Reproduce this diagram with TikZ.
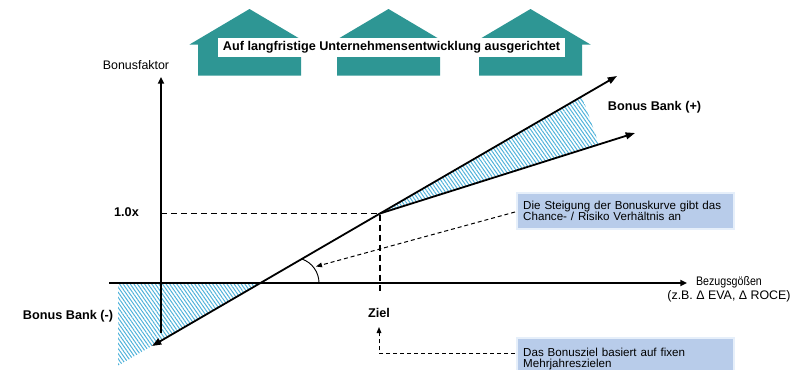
\documentclass[tikz,border=0pt]{standalone}
\usepackage{fontspec}
\setmainfont{Liberation Sans}
\usetikzlibrary{arrows.meta,patterns.meta,calc}
\definecolor{tealhouse}{RGB}{46,150,148}
\definecolor{hatchblue}{RGB}{80,178,218}
\definecolor{boxfill}{RGB}{184,204,234}
\definecolor{boxedge}{RGB}{230,239,250}
\tikzset{
  house/.style={fill=tealhouse, draw=none},
  axisline/.style={line width=1.35pt, -{Triangle[length=5pt,width=4.5pt]}},
  curveline/.style={line width=1.35pt, -{Triangle[length=7pt,width=5pt]}},
  guide/.style={line width=1.35pt, dash pattern=on 4.5pt off 3pt},
  pointer/.style={line width=0.75pt, dash pattern=on 3pt off 2.2pt, -{Triangle[length=4.5pt,width=3.5pt]}},
  hatched/.style={draw=none, pattern={Lines[angle=-55,distance=2.2pt,line width=0.75pt]}, pattern color=hatchblue},
  boldlbl/.style={font=\fontsize{9.5}{11}\selectfont\bfseries, inner sep=0pt},
  plainlbl/.style={font=\fontsize{9.3}{11}\selectfont, inner sep=0pt},
  callout/.style={fill=boxfill, draw=boxedge, line width=1.6pt, font=\fontsize{8.7}{8.4}\selectfont,
    text width=153pt, inner xsep=5pt, align=left, anchor=north west},
}
\newcommand{\housepath}[1]{(#1-60,44.5) -- (#1,9) -- (#1+60,44.5) -- (#1+51.5,44.5) -- (#1+51.5,75.5) -- (#1-51.5,75.5) -- (#1-51.5,44.5) -- cycle}
\begin{document}
\begin{tikzpicture}[x=0.75pt,y=-0.75pt]
\useasboundingbox (0,0) rectangle (802,369);
\clip (0,0) rectangle (802,369);

% houses
\fill[house] \housepath{249.5};
\fill[house] \housepath{388.5};
\fill[house] \housepath{530.5};
\node[fill=white, minimum width=260.25pt, minimum height=14.25pt, inner sep=0pt, font=\fontsize{9.5}{11}\selectfont\bfseries]
  (title) at (391.5,47.5) {Auf langfristige Unternehmensentwicklung ausgerichtet};

% key points
\coordinate (ytop) at (161,77);
\coordinate (ybot) at (161,333);
\coordinate (xleft) at (109,283);
\coordinate (xright) at (687,283);
\coordinate (lowtip) at (152,346);
\coordinate (hightip) at (617,76);
\coordinate (target) at (380,213.5);
\coordinate (flattip) at (635,133);
\coordinate (xcross) at (260,283);
\coordinate (yone) at (161,213.5);
\coordinate (xziel) at (380,291);

% hatched areas
\fill[hatched] (target) -- (582,96.3) -- (599,144.4) -- cycle;
\fill[hatched] (118,283) -- (xcross) -- (118,365.7) -- cycle;

% axes
\draw[axisline] (ybot) -- (ytop);
\draw[axisline] (xleft) -- (xright);

% guide lines
\draw[guide] (yone) -- (target) -- (xziel);

% bonus curves
\draw[curveline] (target) -- (hightip);
\draw[curveline] (target) -- (lowtip);
\draw[curveline] (target) -- (flattip);

% angle arc
\draw[line width=0.7pt] (319,283) arc[start angle=0, end angle=-71, radius=25.4];
\coordinate (arcpt) at (316,266.5);

% labels
\node[plainlbl] (bf) at (136,65) {Bonusfaktor};
\node[boldlbl] (onex) at (126.5,212) {1.0x};
\node[boldlbl] (bbp) at (654.5,107) {Bonus Bank (+)};
\node[boldlbl] (bbm) at (68,316) {Bonus Bank (-)};
\node[boldlbl] (ziel) at (379,313) {Ziel};
\node[plainlbl, align=center] (bez) at (729,289) {\scalebox{0.86}[1]{Bezugsgößen}\\[-0.5pt](z.B. Δ EVA, Δ ROCE)};

% callouts
\node[callout, minimum height=27pt, inner ysep=4pt] (c1) at (515.5,192)
  {Die Steigung der Bonuskurve gibt das\\Chance- / Risiko Verhältnis an};
\node[callout, minimum height=32pt, inner ysep=4pt] (c2) at (515.5,336.5)
  {Das Bonusziel basiert auf fixen\\Mehrjahreszielen};

% pointers
\coordinate (c1out) at (515,212);
\coordinate (c2out) at (515,353);
\coordinate (zieltip) at (379,327);
\draw[pointer] (c1out) -- (arcpt);
\draw[pointer] (c2out) -| (zieltip);
\end{tikzpicture}
\end{document}
